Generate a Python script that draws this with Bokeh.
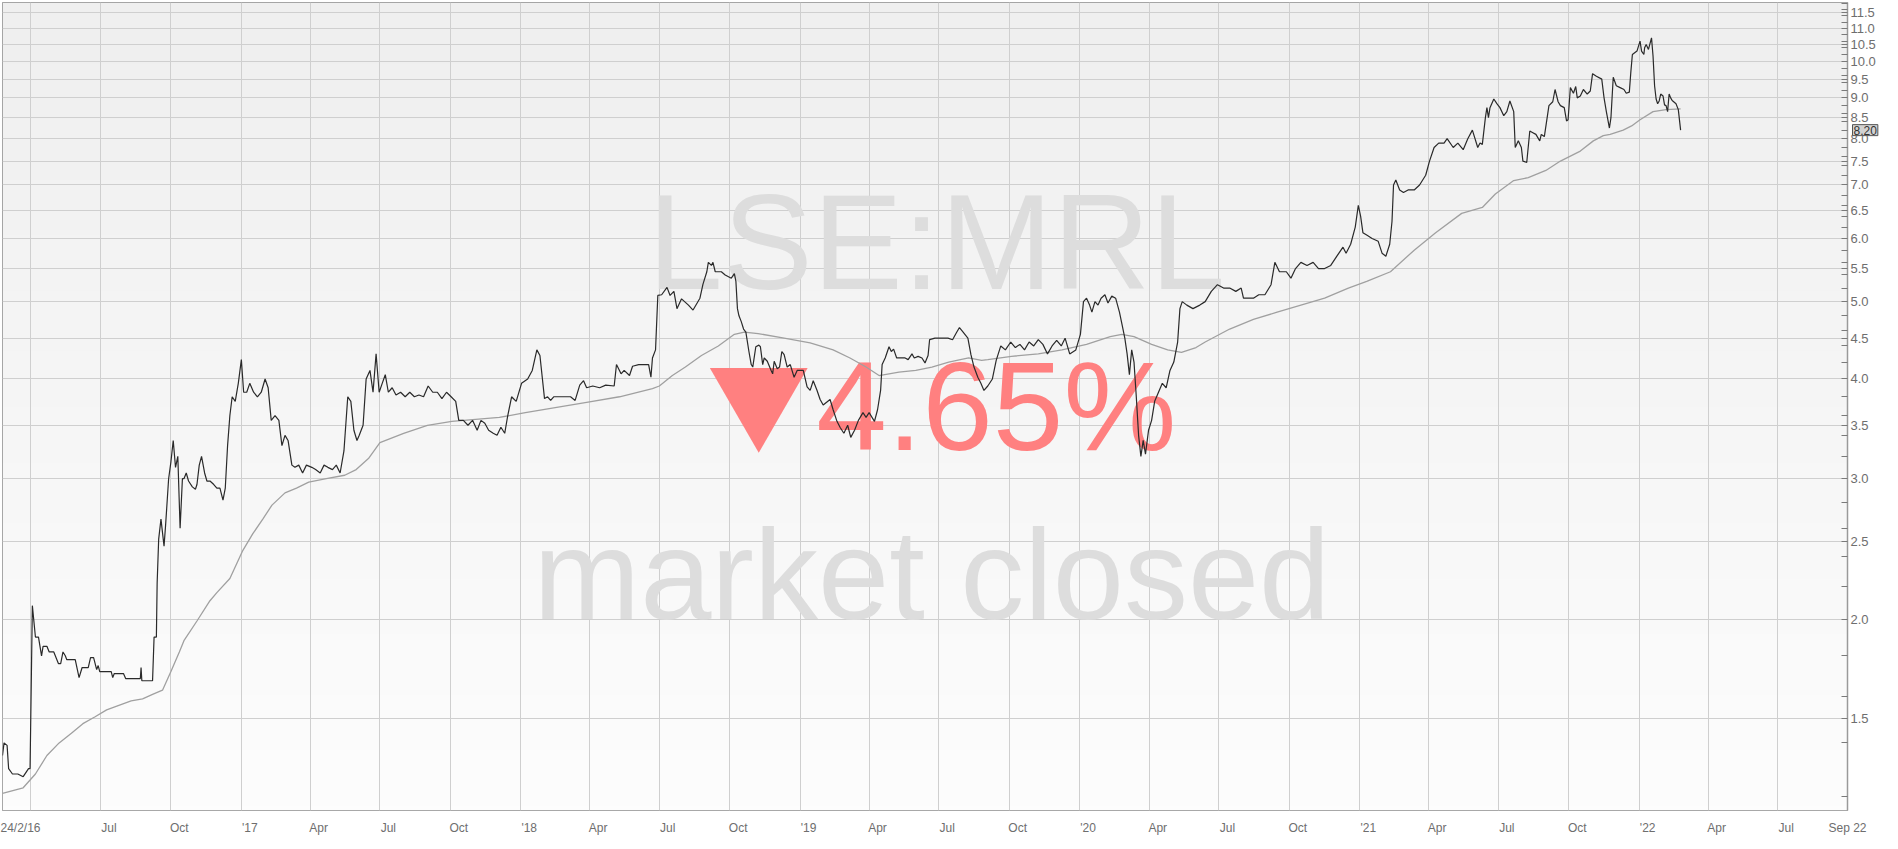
import numpy as np
import pandas as pd
from bokeh.plotting import figure
from bokeh.models import (Range1d, LinearAxis, FixedTicker, PrintfTickFormatter,
                          Label, Grid)
from bokeh.core.properties import value
from bokeh.embed import file_html
from bokeh.resources import INLINE

# ---------------- data ----------------
price_dates = [
    "2016-02-24", "2016-02-26", "2016-03-01", "2016-03-03", "2016-03-08", "2016-03-15", "2016-03-22",
    "2016-03-29", "2016-03-31", "2016-04-03", "2016-04-07", "2016-04-11", "2016-04-15", "2016-04-17",
    "2016-04-22", "2016-04-25", "2016-05-01", "2016-05-04", "2016-05-07", "2016-05-10", "2016-05-13",
    "2016-05-16", "2016-05-18", "2016-05-29", "2016-06-03", "2016-06-07", "2016-06-15", "2016-06-18",
    "2016-06-22", "2016-06-26", "2016-06-28", "2016-06-30", "2016-07-15", "2016-07-17", "2016-07-19",
    "2016-07-31", "2016-08-03", "2016-08-22", "2016-08-23", "2016-08-24", "2016-09-07", "2016-09-09",
    "2016-09-12", "2016-09-13", "2016-09-15", "2016-09-18", "2016-09-22", "2016-09-24", "2016-09-28",
    "2016-10-01", "2016-10-04", "2016-10-07", "2016-10-10", "2016-10-13", "2016-10-16", "2016-10-18",
    "2016-10-21", "2016-10-24", "2016-10-29", "2016-11-02", "2016-11-04", "2016-11-07", "2016-11-10",
    "2016-11-14", "2016-11-17", "2016-11-21", "2016-11-26", "2016-11-30", "2016-12-04", "2016-12-08",
    "2016-12-11", "2016-12-14", "2016-12-17", "2016-12-20", "2016-12-24", "2016-12-28",
    "2017-01-01", "2017-01-04", "2017-01-08", "2017-01-12", "2017-01-17", "2017-01-22", "2017-01-27",
    "2017-02-01", "2017-02-05", "2017-02-09", "2017-02-14", "2017-02-19", "2017-02-23", "2017-02-27",
    "2017-03-03", "2017-03-08", "2017-03-12", "2017-03-17", "2017-03-22", "2017-03-27", "2017-04-03",
    "2017-04-08", "2017-04-14", "2017-04-19", "2017-04-24", "2017-04-30", "2017-05-05", "2017-05-10",
    "2017-05-15", "2017-05-20", "2017-05-24", "2017-05-28", "2017-06-01", "2017-06-04", "2017-06-09",
    "2017-06-13", "2017-06-18", "2017-06-22", "2017-06-26", "2017-06-30", "2017-07-04", "2017-07-08",
    "2017-07-12", "2017-07-17", "2017-07-22", "2017-07-28", "2017-08-03", "2017-08-09", "2017-08-15",
    "2017-08-21", "2017-08-27", "2017-09-02", "2017-09-08", "2017-09-14", "2017-09-20", "2017-09-26",
    "2017-10-02", "2017-10-08", "2017-10-12", "2017-10-18", "2017-10-24", "2017-10-30", "2017-11-05",
    "2017-11-10", "2017-11-15", "2017-11-20", "2017-11-26", "2017-12-01", "2017-12-06", "2017-12-11",
    "2017-12-15", "2017-12-20", "2017-12-26", "2018-01-02", "2018-01-10", "2018-01-16", "2018-01-22",
    "2018-01-26", "2018-02-01", "2018-02-05", "2018-02-09",
    "2018-02-13", "2018-03-07", "2018-03-13", "2018-03-19", "2018-03-24", "2018-03-28", "2018-04-05",
    "2018-04-14", "2018-04-22", "2018-05-03", "2018-05-06", "2018-05-12", "2018-05-16", "2018-05-23",
    "2018-05-27", "2018-06-04", "2018-06-17", "2018-06-20", "2018-06-22", "2018-06-26", "2018-06-29",
    "2018-07-04", "2018-07-11", "2018-07-15", "2018-07-20", "2018-07-24", "2018-07-30", "2018-08-08",
    "2018-08-14", "2018-08-23", "2018-08-27", "2018-09-01", "2018-09-03", "2018-09-07", "2018-09-09",
    "2018-09-12", "2018-09-20", "2018-09-25", "2018-10-03", "2018-10-07", "2018-10-09", "2018-10-11",
    "2018-10-13", "2018-10-16", "2018-10-19", "2018-10-22", "2018-10-26", "2018-10-29", "2018-10-31",
    "2018-11-04", "2018-11-08", "2018-11-10", "2018-11-13", "2018-11-15", "2018-11-19", "2018-11-24",
    "2018-11-26", "2018-11-28", "2018-12-02", "2018-12-05", "2018-12-08", "2018-12-11", "2018-12-15",
    "2018-12-19", "2018-12-24", "2018-12-28", "2019-01-05", "2019-01-10", "2019-01-14", "2019-01-18",
    "2019-01-23", "2019-01-27", "2019-01-31", "2019-02-09", "2019-02-13", "2019-02-18", "2019-02-22",
    "2019-02-27", "2019-03-04", "2019-03-08", "2019-03-13", "2019-03-18", "2019-03-24", "2019-03-28",
    "2019-04-01", "2019-04-08", "2019-04-12", "2019-04-16", "2019-04-18", "2019-04-22", "2019-04-27",
    "2019-04-30", "2019-05-03", "2019-05-07", "2019-05-18", "2019-05-22", "2019-05-27", "2019-05-30",
    "2019-06-04", "2019-06-09", "2019-06-13", "2019-06-17", "2019-06-19", "2019-06-26", "2019-07-13",
    "2019-07-19", "2019-07-24", "2019-07-28", "2019-08-01", "2019-08-08", "2019-08-12", "2019-08-16",
    "2019-08-21", "2019-08-25", "2019-08-29", "2019-09-03", "2019-09-09", "2019-09-14", "2019-09-20",
    "2019-09-26", "2019-10-03", "2019-10-09", "2019-10-15", "2019-10-21", "2019-10-27", "2019-11-02",
    "2019-11-08", "2019-11-14", "2019-11-20", "2019-11-26", "2019-12-02", "2019-12-08", "2019-12-13",
    "2019-12-19", "2019-12-27", "2020-01-02", "2020-01-06", "2020-01-10", "2020-01-14", "2020-01-17",
    "2020-01-21", "2020-01-25", "2020-01-29", "2020-02-03", "2020-02-07", "2020-02-12", "2020-02-17",
    "2020-02-22", "2020-02-26", "2020-02-29", "2020-03-03", "2020-03-06", "2020-03-09", "2020-03-12",
    "2020-03-15", "2020-03-18", "2020-03-21", "2020-03-24", "2020-03-27", "2020-03-31", "2020-04-04",
    "2020-04-08", "2020-04-13", "2020-04-18", "2020-04-23", "2020-04-28", "2020-05-03", "2020-05-08",
    "2020-05-11", "2020-05-14", "2020-05-20", "2020-05-28", "2020-06-06", "2020-06-13", "2020-06-21",
    "2020-06-29", "2020-07-07", "2020-07-15", "2020-07-23", "2020-07-30", "2020-08-02", "2020-08-15",
    "2020-08-22", "2020-08-30", "2020-09-07", "2020-09-12", "2020-09-18", "2020-09-27", "2020-10-03",
    "2020-10-09", "2020-10-16", "2020-10-24", "2020-11-01", "2020-11-08", "2020-11-16", "2020-11-24",
    "2020-12-02", "2020-12-10", "2020-12-14", "2020-12-20", "2020-12-26", "2020-12-30", "2021-01-02",
    "2021-01-05", "2021-01-11", "2021-01-17", "2021-01-25", "2021-01-30", "2021-02-04", "2021-02-09",
    "2021-02-12", "2021-02-14", "2021-02-17", "2021-02-22", "2021-02-27", "2021-03-05", "2021-03-13",
    "2021-03-20", "2021-03-28", "2021-04-02", "2021-04-08", "2021-04-14", "2021-04-21", "2021-04-25",
    "2021-05-03", "2021-05-09", "2021-05-16", "2021-05-22", "2021-05-28", "2021-06-04", "2021-06-07",
    "2021-06-10", "2021-06-14", "2021-06-16", "2021-06-18", "2021-06-20", "2021-06-25", "2021-06-29",
    "2021-07-03", "2021-07-08", "2021-07-12", "2021-07-16", "2021-07-21", "2021-07-23", "2021-07-27",
    "2021-07-31", "2021-08-02", "2021-08-07", "2021-08-11", "2021-08-15", "2021-08-19", "2021-08-24",
    "2021-08-26", "2021-08-30", "2021-09-05", "2021-09-10", "2021-09-13", "2021-09-17", "2021-09-20",
    "2021-09-25", "2021-09-28", "2021-09-30", "2021-10-03", "2021-10-07", "2021-10-10", "2021-10-12",
    "2021-10-16", "2021-10-20", "2021-10-25", "2021-10-29", "2021-11-01", "2021-11-06", "2021-11-13",
    "2021-11-16", "2021-11-19", "2021-11-23", "2021-11-25", "2021-11-28", "2021-12-02", "2021-12-07",
    "2021-12-12", "2021-12-15", "2021-12-19", "2021-12-21", "2021-12-23", "2021-12-26", "2021-12-29",
    "2021-12-31", "2022-01-02", "2022-01-04", "2022-01-07", "2022-01-08", "2022-01-10", "2022-01-13",
    "2022-01-17", "2022-01-19", "2022-01-21", "2022-01-23", "2022-01-25", "2022-01-27", "2022-01-29",
    "2022-02-01", "2022-02-03", "2022-02-05", "2022-02-07", "2022-02-09", "2022-02-11", "2022-02-13",
    "2022-02-18", "2022-02-21", "2022-02-24",
]
price_values = [
    1.35, 1.40, 1.39, 1.30, 1.28, 1.28, 1.27,
    1.30, 1.30, 2.08, 1.90, 1.90, 1.80, 1.85,
    1.85, 1.82, 1.82, 1.79, 1.76, 1.76, 1.82,
    1.80, 1.78, 1.78, 1.69, 1.74, 1.74, 1.79,
    1.79, 1.73, 1.75, 1.72, 1.72, 1.69, 1.71,
    1.71, 1.685, 1.685, 1.74, 1.675, 1.675, 1.90,
    1.90, 2.22, 2.52, 2.67, 2.47, 2.62, 3.00,
    3.15, 3.35, 3.10, 3.20, 2.60, 3.00, 3.00,
    3.05, 2.98, 2.93, 2.91, 2.95, 3.12, 3.20,
    3.05, 2.98, 2.98, 2.95, 2.92, 2.92, 2.82,
    2.92, 3.30, 3.60, 3.80, 3.75, 3.95,
    4.23, 3.85, 3.85, 3.95, 3.85, 3.80, 3.85,
    4.00, 3.90, 3.55, 3.60, 3.55, 3.30, 3.40,
    3.35, 3.12, 3.10, 3.12, 3.05, 3.12, 3.10,
    3.08, 3.05, 3.12, 3.10, 3.08, 3.12, 3.05,
    3.25, 3.80, 3.75, 3.45, 3.35, 3.40, 3.50,
    4.00, 4.10, 3.85, 4.30, 3.85, 3.95, 4.05,
    3.85, 3.90, 3.82, 3.85, 3.80, 3.85, 3.80,
    3.82, 3.80, 3.92, 3.85, 3.85, 3.78, 3.85,
    3.80, 3.75, 3.55, 3.55, 3.50, 3.55, 3.45,
    3.55, 3.52, 3.45, 3.42, 3.40, 3.48, 3.42,
    3.60, 3.80, 3.75, 3.95, 4.00, 4.10, 4.35,
    4.28, 3.78, 3.80, 3.76,
    3.80, 3.80, 3.76, 3.93, 3.98, 3.90, 3.92,
    3.90, 3.93, 3.92, 4.17, 4.06, 4.10, 4.04,
    4.15, 4.17, 4.17, 4.02, 4.25, 4.35, 5.09,
    5.10, 5.21, 5.09, 5.15, 4.90, 5.04, 4.95,
    4.88, 5.05, 5.26, 5.45, 5.60, 5.55, 5.60,
    5.45, 5.45, 5.40, 5.35, 5.42, 5.30, 4.90,
    4.80, 4.72, 4.62, 4.58, 4.33, 4.17, 4.14,
    4.39, 4.41, 4.39, 4.17, 4.25, 4.21, 4.10,
    4.06, 4.21, 4.12, 4.14, 4.33, 4.29, 4.14,
    4.17, 4.02, 4.10, 4.10, 3.91, 3.87, 3.98,
    3.87, 3.77, 3.71, 3.77, 3.66, 3.54, 3.48,
    3.42, 3.50, 3.38, 3.45, 3.55, 3.63, 3.58,
    3.63, 3.54, 3.66, 3.87, 4.17, 4.25, 4.39,
    4.33, 4.36, 4.25, 4.25, 4.23, 4.30, 4.25,
    4.27, 4.25, 4.19, 4.28, 4.48, 4.50, 4.50,
    4.48, 4.57, 4.64, 4.59, 4.50, 4.29, 4.14,
    4.02, 3.95, 3.87, 3.92, 4.00, 4.22, 4.40,
    4.35, 4.45, 4.38, 4.42, 4.35, 4.45, 4.40,
    4.48, 4.42, 4.30, 4.40, 4.47, 4.40, 4.50,
    4.30, 4.35, 4.55, 5.00, 5.05, 4.95, 4.85,
    5.00, 4.95, 5.05, 5.10, 4.98, 5.08, 5.05,
    4.85, 4.65, 4.50, 4.30, 4.05, 4.35, 4.20,
    3.80, 3.40, 3.20, 3.35, 3.22, 3.45, 3.55,
    3.75, 3.85, 3.95, 3.90, 4.10, 4.20, 4.45,
    4.90, 5.00, 4.95, 4.90, 4.95, 5.00, 5.15,
    5.25, 5.20, 5.20, 5.15, 5.20, 5.05, 5.05,
    5.10, 5.10, 5.25, 5.60, 5.45, 5.45, 5.35,
    5.50, 5.60, 5.55, 5.60, 5.50, 5.50, 5.55,
    5.70, 5.85, 5.75, 5.90, 6.20, 6.60, 6.40,
    6.10, 6.05, 6.00, 5.95, 5.75, 5.70, 5.90,
    6.30, 7.00, 7.10, 6.90, 6.85, 6.90, 6.90,
    7.00, 7.20, 7.50, 7.80, 7.90, 7.90, 8.00,
    7.80, 7.90, 7.75, 8.00, 8.20, 7.80, 7.90,
    7.87, 8.50, 8.75, 8.50, 8.75, 8.97, 8.85,
    8.75, 8.55, 8.65, 8.92, 8.65, 7.80, 7.95,
    7.80, 7.50, 7.47, 8.18, 8.14, 8.10, 7.95,
    8.10, 8.05, 8.80, 8.90, 9.22, 8.90, 8.80,
    8.75, 8.42, 8.45, 9.27, 9.12, 9.30, 9.00,
    9.05, 9.22, 9.10, 9.18, 9.65, 9.58, 9.50,
    9.00, 8.65, 8.25, 8.50, 9.55, 9.32, 9.27,
    9.22, 9.12, 9.15, 9.70, 10.20, 10.25, 10.30,
    10.45, 10.60, 10.30, 10.20, 10.40, 10.50, 10.35,
    10.70, 10.15, 9.32, 8.97, 8.85, 8.92, 9.10,
    9.05, 8.82, 8.80, 8.65, 9.10, 9.00, 8.93,
    8.85, 8.70, 8.20,
]

ma_dates = [
    "2016-02-24", "2016-03-22", "2016-04-07", "2016-04-22", "2016-05-08", "2016-05-24", "2016-06-08",
    "2016-06-24", "2016-07-09", "2016-07-25", "2016-08-10", "2016-08-25", "2016-09-07", "2016-09-20",
    "2016-10-01", "2016-10-12", "2016-10-18", "2016-11-04", "2016-11-21", "2016-11-30", "2016-12-17",
    "2017-01-03", "2017-01-16", "2017-01-29", "2017-02-10", "2017-02-27", "2017-03-14", "2017-03-30",
    "2017-04-22", "2017-05-16", "2017-05-31", "2017-06-16", "2017-07-01", "2017-08-01", "2017-09-01",
    "2017-10-03", "2017-11-03", "2017-12-04", "2018-01-07", "2018-02-13", "2018-03-28", "2018-05-10",
    "2018-06-22", "2018-07-01", "2018-07-18", "2018-08-04", "2018-08-25", "2018-09-16", "2018-10-07",
    "2018-10-20", "2018-11-07", "2018-12-11", "2019-01-14", "2019-02-13", "2019-03-07", "2019-03-28",
    "2019-04-14", "2019-05-10", "2019-06-01", "2019-06-22", "2019-07-14", "2019-08-09", "2019-08-26",
    "2019-09-03", "2019-10-04", "2019-11-08", "2019-12-09", "2020-01-10", "2020-02-10", "2020-02-25",
    "2020-03-12", "2020-04-04", "2020-04-25", "2020-05-13", "2020-06-01", "2020-06-13", "2020-07-15",
    "2020-08-15", "2020-09-15", "2020-10-16", "2020-11-16", "2020-12-17", "2021-01-10", "2021-02-10",
    "2021-03-13", "2021-04-10", "2021-05-14", "2021-06-10", "2021-06-27", "2021-07-21", "2021-08-09",
    "2021-09-01", "2021-09-20", "2021-10-16", "2021-11-02", "2021-11-15", "2021-11-24", "2021-12-11",
    "2021-12-22", "2022-01-02", "2022-01-19", "2022-02-05", "2022-02-24",
]
ma_values = [
    1.21, 1.23, 1.28, 1.35, 1.40, 1.44, 1.48,
    1.51, 1.54, 1.56, 1.58, 1.59, 1.61, 1.63,
    1.72, 1.82, 1.88, 1.99, 2.11, 2.16, 2.25,
    2.44, 2.56, 2.67, 2.78, 2.88, 2.92, 2.97,
    3.00, 3.03, 3.08, 3.18, 3.33, 3.42, 3.50,
    3.54, 3.56, 3.58, 3.63, 3.68, 3.74, 3.80,
    3.89, 3.92, 4.04, 4.14, 4.28, 4.40, 4.55,
    4.58, 4.56, 4.50, 4.44, 4.35, 4.25, 4.14,
    4.04, 4.08, 4.10, 4.14, 4.20, 4.25, 4.22,
    4.23, 4.27, 4.30, 4.35, 4.42, 4.52, 4.55,
    4.52, 4.42, 4.35, 4.32, 4.38, 4.45, 4.62,
    4.75, 4.85, 4.95, 5.05, 5.20, 5.30, 5.45,
    5.80, 6.10, 6.45, 6.56, 6.82, 7.09, 7.15,
    7.30, 7.50, 7.72, 7.95, 8.07, 8.10, 8.20,
    8.30, 8.45, 8.65, 8.70, 8.72,
]

last_price = 8.20
change_text = "4.65%"
symbol_text = "LSE:MRL"
status_text = "market closed"

y_ticks = [1.5, 2.0, 2.5, 3.0, 3.5, 4.0, 4.5, 5.0, 5.5, 6.0, 6.5, 7.0, 7.5,
           8.0, 8.5, 9.0, 9.5, 10.0, 10.5, 11.0, 11.5]
y_minor_ticks = [1.2, 1.4, 1.6, 1.8, 2.2, 2.4, 2.6, 2.8, 3.2, 3.4, 3.6, 3.8, 4.2, 4.4,
                 4.6, 4.8, 5.2, 5.4, 5.6, 5.8, 6.2, 6.4, 6.6, 6.8, 7.2, 7.4, 7.6, 7.8,
                 8.2, 8.4, 8.6, 8.8, 9.2, 9.4, 9.6, 9.8, 10.2, 10.4, 10.6, 10.8,
                 11.2, 11.4, 11.6, 11.8]

x_label_dates = ["2016-02-24", "2016-07-01", "2016-10-01", "2017-01-01", "2017-04-01",
                 "2017-07-01", "2017-10-01", "2018-01-01", "2018-04-01", "2018-07-01",
                 "2018-10-01", "2019-01-01", "2019-04-01", "2019-07-01", "2019-10-01",
                 "2020-01-01", "2020-04-01", "2020-07-01", "2020-10-01", "2021-01-01",
                 "2021-04-01", "2021-07-01", "2021-10-01", "2022-01-01", "2022-04-01",
                 "2022-07-01", "2022-09-30"]
x_labels = ["24/2/16", "Jul", "Oct", "'17", "Apr", "Jul", "Oct", "'18", "Apr", "Jul", "Oct",
            "'19", "Apr", "Jul", "Oct", "'20", "Apr", "Jul", "Oct", "'21", "Apr", "Jul",
            "Oct", "'22", "Apr", "Jul", "Sep 22"]
x_grid_dates = ["2016-04-01", "2016-07-01", "2016-10-01", "2017-01-01", "2017-04-01",
                "2017-07-01", "2017-10-01", "2018-01-01", "2018-04-01", "2018-07-01",
                "2018-10-01", "2019-01-01", "2019-04-01", "2019-07-01", "2019-10-01",
                "2020-01-01", "2020-04-01", "2020-07-01", "2020-10-01", "2021-01-01",
                "2021-04-01", "2021-07-01", "2021-10-01", "2022-01-01", "2022-04-01",
                "2022-07-01"]

# ---------------- helpers ----------------
DAY = 86400000


def ms(d):
    return int(pd.Timestamp(d).value // 10**6)


x_start, x_end = ms("2016-02-24"), ms("2022-09-30")
y_lo, y_hi = 1.152, 11.85
FW, FH = 1845, 808

FONT = "Liberation Sans"

p = figure(frame_width=FW, frame_height=FH, x_axis_type=None, y_axis_type="log",
           y_axis_location="right", output_backend="svg", toolbar_location=None,
           min_border_left=2, min_border_top=2, min_border_right=0, min_border_bottom=0,
           x_range=Range1d(x_start, x_end), y_range=Range1d(y_lo, y_hi))

p.background_fill_color = "#f7f7f7"
p.border_fill_color = "#ffffff"
p.outline_line_color = "#8c8c8c"
p.outline_line_width = 1

# subtle vertical gradient background
n = 160
img = np.empty((n, 1), dtype=np.uint32)
view = img.view(dtype=np.uint8).reshape((n, 1, 4))
g = np.linspace(253, 239, n).astype(np.uint8)
view[:, 0, 0] = g
view[:, 0, 1] = g
view[:, 0, 2] = g
view[:, 0, 3] = 255
p.image_rgba(image=[img], x=x_start, y=y_lo, dw=x_end - x_start, dh=y_hi - y_lo, level="image")

# y axis (right, log)
yt = FixedTicker(ticks=y_ticks, minor_ticks=y_minor_ticks)
p.yaxis.ticker = yt
p.ygrid.ticker = yt
p.yaxis.formatter = PrintfTickFormatter(format="%.1f")
p.yaxis.major_label_text_font = FONT
p.yaxis.major_label_text_font_size = "13px"
p.yaxis.major_label_text_color = "#6e6e6e"
p.yaxis.major_label_standoff = 3
p.yaxis.axis_line_color = "#9a9a9a"
p.yaxis.axis_line_width = 1.5
p.yaxis.major_tick_in = 6
p.yaxis.major_tick_out = 0
p.yaxis.minor_tick_in = 6
p.yaxis.minor_tick_out = 0
p.yaxis.major_tick_line_color = "#7a7a7a"
p.yaxis.minor_tick_line_color = "#7a7a7a"
p.ygrid.grid_line_color = "#cfcfcf"
p.ygrid.grid_line_width = 1

# x grid and labels
xg = Grid(dimension=0, ticker=FixedTicker(ticks=[ms(d) for d in x_grid_dates]),
          grid_line_color="#cfcfcf", grid_line_width=1)
p.add_layout(xg)

label_offsets = [23] + [11] * (len(x_label_dates) - 2) + [0]
label_ticks = [ms(d) + off * DAY for d, off in zip(x_label_dates, label_offsets)]
xaxis = LinearAxis(ticker=FixedTicker(ticks=label_ticks),
                   major_label_overrides={t: s for t, s in zip(label_ticks, x_labels)})
xaxis.axis_line_color = None
xaxis.major_tick_line_color = None
xaxis.minor_tick_line_color = None
xaxis.major_label_text_font = FONT
xaxis.major_label_text_font_size = "12px"
xaxis.major_label_text_color = "#6e6e6e"
xaxis.major_label_standoff = 4
p.add_layout(xaxis, "below")

# watermark texts (drawn beneath the lines)
p.text(x=[ms("2019-06-28")], y=[5.93], text=[symbol_text], text_font=value(FONT),
       text_font_size="135px", text_color="#dddddd", text_align="center",
       text_baseline="alphabetic")
p.text(x=[ms("2019-06-22")], y=[2.275], text=[status_text], text_font=value(FONT),
       text_font_size="128px", text_color="#dddddd", text_align="center",
       text_baseline="alphabetic")
p.text(x=[ms("2018-11-08")], y=[3.76], text=["\u25BC"], text_font=value("Noto Sans CJK JP"),
       text_font_size="104px", text_color="#ff8080", text_align="center",
       text_baseline="alphabetic")
p.text(x=[ms("2019-01-22")], y=[3.70], text=[change_text], text_font=value(FONT),
       text_font_size="127px", text_color="#ff8080", text_align="left",
       text_baseline="alphabetic")

# series
p.line(x=pd.to_datetime(ma_dates), y=ma_values, line_color="#a0a0a0", line_width=1.3)
p.line(x=pd.to_datetime(price_dates), y=price_values, line_color="#2a2a2a", line_width=1.2)

# last price tag: placed in a side panel (not clipped to the frame),
# shifted left so that it sits over the price axis
tag = Label(x=-26, x_units="screen", y=last_price, y_units="data",
            text="%.2f" % last_price,
            text_font=FONT, text_font_size="12px", text_color="#333333",
            text_align="left", text_baseline="middle",
            background_fill_color="#d2d2d2", border_line_color="#555555",
            padding=1)
p.add_layout(tag, "right")

open("out.html", "w").write(file_html(p, INLINE))
